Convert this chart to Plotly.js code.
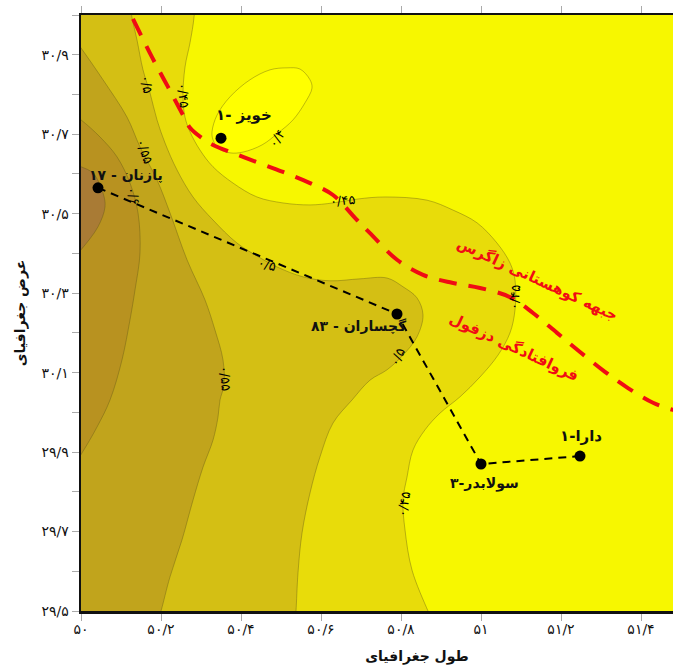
<!DOCTYPE html>
<html><head><meta charset="utf-8">
<script src="https://cdn.plot.ly/plotly-3.0.1.min.js"></script>
<style>html,body{margin:0;padding:0;background:#fff;overflow:hidden;width:673px;height:667px}</style>
</head><body><div id="chart"></div>
<script>
// Contour boundaries (longitude / latitude)
const c40Lon=[50.3275,50.34,50.3725,50.4225,50.4725,50.515,50.5475,50.5725,50.5775,50.56,50.53,50.4925,50.4525,50.405,50.3725,50.3425,50.33,50.3275];
const c40Lat=[30.706,30.748,30.794,30.837,30.862,30.867,30.864,30.837,30.816,30.779,30.736,30.703,30.673,30.655,30.653,30.665,30.686,30.706];
const c45Lon=[50.2825,50.2825,50.2725,50.26,50.255,50.26,50.2725,50.2975,50.33,50.38,50.44,50.505,50.5725,50.63,50.6925,50.76,50.865,50.93,50.99,51.04,51.0725,51.085,51.085,51.0725,51.0425,50.9975,50.9475,50.8975,50.86,50.83,50.815,50.805,50.81,50.8275,50.8675,50.878,49.95,49.95,50.2825];
const c45Lat=[31.03,30.995,30.93,30.869,30.794,30.743,30.706,30.66,30.618,30.577,30.542,30.527,30.522,30.527,30.537,30.542,30.534,30.509,30.477,30.426,30.376,30.333,30.258,30.2,30.144,30.089,30.039,29.998,29.956,29.905,29.837,29.779,29.704,29.603,29.5,29.477,29.47,31.03,31.03];
const c50Lon=[50.12,50.1275,50.14,50.155,50.1725,50.19,50.21,50.24,50.28,50.33,50.39,50.4475,50.49,50.555,50.6225,50.6975,50.765,50.805,50.84,50.855,50.84,50.805,50.765,50.7225,50.6775,50.63,50.5975,50.5725,50.5525,50.5425,50.5375,50.535,49.95,49.95,50.12];
const c50Lat=[31.03,30.993,30.937,30.862,30.804,30.736,30.678,30.61,30.542,30.484,30.426,30.389,30.366,30.341,30.331,30.336,30.338,30.316,30.288,30.245,30.19,30.144,30.107,30.081,30.031,29.973,29.888,29.797,29.696,29.596,29.5,29.47,29.47,31.03,31.03];
const c55Lon=[49.97,50.0,50.055,50.115,50.1475,50.19,50.2225,50.265,50.31,50.335,50.355,50.3575,50.3475,50.3425,50.33,50.305,50.28,50.2525,50.2225,50.2,50.1925,49.95,49.95,49.97];
const c55Lat=[30.957,30.917,30.837,30.743,30.668,30.585,30.502,30.384,30.283,30.207,30.132,30.069,30.031,29.988,29.93,29.862,29.779,29.679,29.586,29.5,29.477,29.47,30.957,30.957];
const c60Lon=[49.97,50.0,50.0475,50.09,50.1225,50.1425,50.1475,50.135,50.1225,50.1025,50.0725,50.04,50.0025,49.98,49.95,49.95,49.97];
const c60Lat=[30.756,30.736,30.693,30.643,30.577,30.502,30.401,30.308,30.233,30.132,30.031,29.963,29.898,29.865,29.865,30.756,30.756];
const c65Lon=[49.97,50.0,50.03,50.055,50.06,50.0425,50.0,49.9775,49.95,49.95,49.97];
const c65Lat=[30.628,30.618,30.602,30.552,30.517,30.467,30.409,30.384,30.384,30.628,30.628];
// Zagros front line
const frontLon=[50.13,50.1775,50.2175,50.255,50.2725,50.3025,50.33,50.405,50.505,50.5725,50.63,50.69,50.7225,50.79,50.855,50.9275,50.9975,51.0725,51.13,51.19,51.2475,51.31,51.3675,51.43,51.48,51.53];
const frontLat=[30.99,30.894,30.819,30.748,30.716,30.69,30.673,30.643,30.605,30.577,30.547,30.484,30.451,30.384,30.346,30.326,30.313,30.29,30.25,30.2,30.152,30.102,30.061,30.024,30.006,29.995];
// Wells
const sectionLon=[50.0425,50.79,51.0,51.2475];
const sectionLat=[30.565,30.2475,29.87,29.89];
const khovizLon=[50.35];
const khovizLat=[30.69];
const wellNames=["خویز -۱","پازنان - ۱۷","گچساران - ۸۳","سولابدر-۳","دارا-۱"];
const wellNameLon=[50.4075,50.1125,50.695,51.0075,51.25];
const wellNameLat=[30.748,30.597,30.217,29.82,29.94];
const regionNames=["جبهه کوهستانی زاگرس","فروافتادگی دزفول"];
const regionLon=[51.14,51.0825];
const regionLat=[30.336,30.165];
const regionAngle=[25,25];
const levelText=["۰/۵","۰/۴۵","۰/۴","۰/۵۵","۰/۶","۰/۵","۰/۴۵","۰/۴۵","۰/۵","۰/۵۵","۰/۴۵"];
const levelLon=[50.165,50.255,50.49,50.1575,50.13,50.465,50.6525,51.085,50.79,50.36,50.8075];
const levelLat=[30.826,30.799,30.688,30.658,30.545,30.373,30.532,30.288,30.139,30.087,29.767];
const levelAngle=[80,85,-55,70,75,15,-5,-85,-65,85,-80];
// Ticks
const xTickVals=[50,50.2,50.4,50.6,50.8,51,51.2,51.4];
const xTickText=["۵۰","۵۰/۲","۵۰/۴","۵۰/۶","۵۰/۸","۵۱","۵۱/۲","۵۱/۴"];
const yTickVals=[29.5,29.6,29.7,29.8,29.9,30,30.1,30.2,30.3,30.4,30.5,30.6,30.7,30.8,30.9,31];
const yTickText=["۲۹/۵","","۲۹/۷","","۲۹/۹","","۳۰/۱","","۳۰/۳","","۳۰/۵","","۳۰/۷","","۳۰/۹",""];

const FONT="'DejaVu Sans', sans-serif";
function band(lon,lat,color){
  return {x:lon,y:lat,type:'scatter',mode:'lines',fill:'toself',fillcolor:color,
    line:{color:'rgba(95,85,20,0.65)',width:0.6,shape:'spline',smoothing:1},hoverinfo:'skip',showlegend:false};
}
const traces=[
  band(c45Lon,c45Lat,'#E8DC0A'),
  band(c50Lon,c50Lat,'#D4BF14'),
  band(c55Lon,c55Lat,'#C1A41C'),
  band(c60Lon,c60Lat,'#B89220'),
  band(c65Lon,c65Lat,'#A97B35'),
  band(c40Lon,c40Lat,'#FFFF00'),
  {x:frontLon,y:frontLat,type:'scatter',mode:'lines',line:{color:'#F00C14',width:4,dash:'18px,12px',shape:'spline',smoothing:1},hoverinfo:'skip',showlegend:false},
  {x:sectionLon,y:sectionLat,type:'scatter',mode:'lines+markers',line:{color:'#000',width:2,dash:'8px,6px'},marker:{color:'#000',size:11},hoverinfo:'skip',showlegend:false},
  {x:khovizLon,y:khovizLat,type:'scatter',mode:'markers',marker:{color:'#000',size:11},hoverinfo:'skip',showlegend:false}
];
const annotations=[];
wellNames.forEach((t,i)=>annotations.push({x:wellNameLon[i],y:wellNameLat[i],text:t,showarrow:false,font:{family:FONT,size:i===0||i===4?15:14,color:'#111',weight:'bold'}}));
regionNames.forEach((t,i)=>annotations.push({x:regionLon[i],y:regionLat[i],text:t,textangle:regionAngle[i],showarrow:false,font:{family:FONT,size:15,color:'#F00C14',weight:'bold'}}));
levelText.forEach((t,i)=>annotations.push({x:levelLon[i],y:levelLat[i],text:t,textangle:levelAngle[i],showarrow:false,font:{family:FONT,size:13,color:'#000'}}));

const axisBase={showgrid:false,zeroline:false,showline:true,linecolor:'#111',linewidth:2.5,ticks:'outside',ticklen:7,tickcolor:'#aaa',tickwidth:1,tickmode:'array',
  tickfont:{family:FONT,size:14,color:'#111'}};
const layout={
  width:753,height:667,margin:{l:81,r:0,t:15,b:56},
  paper_bgcolor:'#fff',plot_bgcolor:'#F7F700',showlegend:false,
  xaxis:Object.assign({},axisBase,{range:[50,51.68],tickvals:xTickVals,ticktext:xTickText,mirror:'allticks',ticklabelstandoff:-3,
    title:{text:"طول جغرافیای",font:{family:FONT,size:14,color:'#111',weight:'bold'},standoff:15}}),
  yaxis:Object.assign({},axisBase,{range:[29.5,31],tickvals:yTickVals,ticktext:yTickText,
    title:{text:"عرض جغرافیای",font:{family:FONT,size:14,color:'#111',weight:'bold'},standoff:13}}),
  annotations
};
Plotly.newPlot('chart',traces,layout,{displayModeBar:false,staticPlot:true});
</script></body></html>
